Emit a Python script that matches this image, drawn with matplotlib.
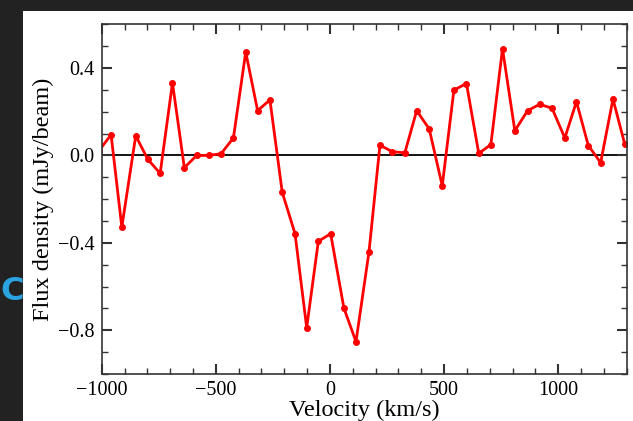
import matplotlib
matplotlib.use("Agg")
import matplotlib.pyplot as plt
from matplotlib.ticker import MultipleLocator

velocity = [-1013, -959, -912, -851, -798, -744, -690, -638, -584, -531, -477, -423,
            -369, -317, -263, -209, -153, -102, -51, 3, 61, 114, 171, 219, 273, 328,
            380, 435, 492, 543, 598, 652, 705, 756, 810, 866, 919, 973, 1029, 1080,
            1132, 1186, 1240, 1291]
flux = [0.02, 0.095, -0.328, 0.09, -0.018, -0.082, 0.332, -0.056, 0.0, 0.0, 0.008, 0.08,
        0.473, 0.205, 0.254, -0.169, -0.358, -0.788, -0.393, -0.358, -0.698, -0.852,
        -0.441, 0.047, 0.017, 0.012, 0.205, 0.121, -0.139, 0.299, 0.329, 0.009, 0.05,
        0.488, 0.113, 0.205, 0.234, 0.216, 0.08, 0.246, 0.045, -0.033, 0.258, 0.054]
xticks = [-1000, -500, 0, 500, 1000]
yticks = [-0.8, -0.4, 0.0, 0.4]

plt.rcParams['font.family'] = ['Liberation Serif', 'DejaVu Serif']
plt.rcParams['axes.unicode_minus'] = True

fig = plt.figure(figsize=(6.33, 4.21), dpi=100, facecolor='#222222')

# white panel behind the chart
bg = fig.add_axes([23/633, 0, 1 - 23/633, 1 - 11/421], zorder=0)
bg.set_axis_off()
bg.add_artist(plt.Rectangle((0, 0), 1, 1, transform=bg.transAxes, color='white'))

fig.text(0.5/633, 1 - 292/421, 'C', color='#2aa4e0', fontsize=23, family='DejaVu Sans',
         weight='semibold', ha='left', va='center', zorder=5)

ax = fig.add_axes([0.1607, 0.1116, 0.9900 - 0.1607, 0.9423 - 0.1116], zorder=2)
ax.set_facecolor('white')
ax.axhline(0, color='black', lw=1.3, zorder=1)
ax.plot(velocity, flux, color='#ff0000', lw=2.0, marker='o', ms=4, zorder=2, clip_on=True)
ax.set_xlim(-1000, 1300)
ax.set_ylim(-1.0, 0.6)
ax.set_xticks(xticks)
ax.set_xticklabels([('\u2212' + str(-t)) if t < 0 else str(t) for t in xticks])
ax.set_yticks(yticks)
ax.set_yticklabels([('\u2212%.1f' % (-t)) if t < 0 else '%.1f' % t for t in yticks])
ax.xaxis.set_minor_locator(MultipleLocator(100))
ax.yaxis.set_minor_locator(MultipleLocator(0.1))
ax.tick_params(which='both', direction='in', top=True, right=True, labelsize=14.5,
               color='#333333')
ax.tick_params(which='major', length=7, width=1.5, pad=5)
ax.tick_params(which='minor', length=4, width=1)
for s in ax.spines.values():
    s.set_linewidth(1.2)
    s.set_color('#333333')
ax.set_xlabel('Velocity (km/s)', fontsize=17.5, labelpad=0)
ax.set_ylabel('Flux density (mJy/beam)', fontsize=17.5, labelpad=3)

fig.savefig('out.png', dpi=100, facecolor=fig.get_facecolor())
